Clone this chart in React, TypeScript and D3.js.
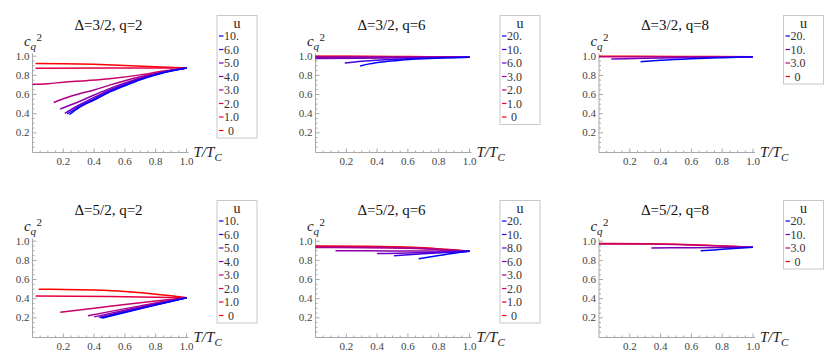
import React from "react";
import * as d3 from "d3";

// ---------- data (legend order: highest u first) ----------
const titles = ["Δ=3/2, q=2", "Δ=3/2, q=6", "Δ=3/2, q=8", "Δ=5/2, q=2", "Δ=5/2, q=6", "Δ=5/2, q=8"];

const uLabels_32_2 = ["10.", "6.0", "5.0", "4.0", "3.0", "2.0", "1.0", "0"];
const curves_32_2: number[][][] = [
  [[0.24, 0.391], [0.3, 0.46], [0.4, 0.543], [0.5, 0.625], [0.6, 0.692], [0.7, 0.755], [0.8, 0.804], [0.9, 0.845], [1, 0.877]],
  [[0.225, 0.397], [0.3, 0.472], [0.4, 0.555], [0.5, 0.635], [0.6, 0.70], [0.7, 0.76], [0.8, 0.808], [0.9, 0.847], [1, 0.877]],
  [[0.21, 0.404], [0.3, 0.488], [0.4, 0.57], [0.5, 0.645], [0.6, 0.708], [0.7, 0.765], [0.8, 0.812], [0.9, 0.85], [1, 0.877]],
  [[0.18, 0.449], [0.3, 0.525], [0.4, 0.595], [0.5, 0.662], [0.6, 0.72], [0.7, 0.772], [0.8, 0.815], [0.9, 0.85], [1, 0.877]],
  [[0.138, 0.517], [0.2, 0.555], [0.3, 0.605], [0.4, 0.647], [0.5, 0.698], [0.6, 0.744], [0.7, 0.785], [0.8, 0.82], [0.9, 0.85], [1, 0.877]],
  [[0.0, 0.707], [0.1, 0.713], [0.2, 0.728], [0.35, 0.745], [0.5, 0.765], [0.7, 0.805], [0.85, 0.845], [1, 0.877]],
  [[0.02, 0.874], [0.5, 0.876], [1, 0.877]],
  [[0.02, 0.924], [0.2, 0.922], [0.4, 0.915], [0.6, 0.904], [0.8, 0.891], [1, 0.877]],
];

const uLabels_32_6 = ["20.", "10.", "6.0", "3.0", "2.0", "1.0", "0"];
const curves_32_6: number[][][] = [
  [[0.29, 0.898], [0.35, 0.92], [0.45, 0.943], [0.55, 0.958], [0.7, 0.973], [0.85, 0.984], [1, 0.99]],
  [[0.19, 0.93], [0.3, 0.948], [0.45, 0.963], [0.6, 0.974], [0.8, 0.984], [1, 0.99]],
  [[0.0, 0.975], [0.3, 0.978], [0.6, 0.984], [1, 0.99]],
  [[0.0, 0.99], [0.5, 0.99], [1, 0.99]],
  [[0.0, 0.995], [0.5, 0.993], [1, 0.99]],
  [[0.0, 0.998], [0.5, 0.995], [1, 0.99]],
  [[0.0, 1.0], [0.5, 0.997], [1, 0.99]],
];

const uLabels_32_8 = ["20.", "10.", "3.0", "0"];
const curves_32_8: number[][][] = [
  [[0.27, 0.943], [0.4, 0.958], [0.6, 0.974], [0.8, 0.985], [1, 0.993]],
  [[0.08, 0.971], [0.3, 0.978], [0.6, 0.986], [1, 0.993]],
  [[0.0, 0.995], [0.5, 0.994], [1, 0.993]],
  [[0.0, 1.0], [0.5, 0.998], [1, 0.995]],
];

const uLabels_52_2 = ["10.", "6.0", "5.0", "4.0", "3.0", "2.0", "1.0", "0"];
const curves_52_2: number[][][] = [
  [[0.45, 0.197], [0.6, 0.256], [0.8, 0.333], [1, 0.41]],
  [[0.44, 0.2], [0.6, 0.262], [0.8, 0.337], [1, 0.41]],
  [[0.43, 0.205], [0.6, 0.268], [0.8, 0.34], [1, 0.41]],
  [[0.40, 0.21], [0.6, 0.28], [0.8, 0.347], [1, 0.41]],
  [[0.36, 0.222], [0.5, 0.265], [0.7, 0.325], [0.85, 0.37], [1, 0.41]],
  [[0.18, 0.258], [0.4, 0.30], [0.6, 0.34], [0.8, 0.377], [1, 0.41]],
  [[0.02, 0.427], [0.5, 0.422], [1, 0.41]],
  [[0.04, 0.498], [0.2, 0.497], [0.4, 0.49], [0.6, 0.475], [0.8, 0.447], [0.9, 0.43], [1, 0.41]],
];

const uLabels_52_6 = ["20.", "10.", "8.0", "6.0", "3.0", "2.0", "1.0", "0"];
const curves_52_6: number[][][] = [
  [[0.67, 0.818], [0.8, 0.85], [0.9, 0.875], [1, 0.895]],
  [[0.51, 0.849], [0.7, 0.868], [0.85, 0.882], [1, 0.895]],
  [[0.40, 0.871], [0.6, 0.877], [0.8, 0.886], [1, 0.895]],
  [[0.13, 0.90], [0.5, 0.899], [1, 0.895]],
  [[0.0, 0.935], [0.5, 0.928], [0.7, 0.92], [0.85, 0.908], [1, 0.895]],
  [[0.0, 0.94], [0.5, 0.933], [0.7, 0.924], [0.85, 0.91], [1, 0.895]],
  [[0.0, 0.945], [0.3, 0.943], [0.5, 0.938], [0.7, 0.928], [0.85, 0.912], [1, 0.895]],
  [[0.0, 0.95], [0.3, 0.948], [0.5, 0.943], [0.7, 0.932], [0.85, 0.915], [1, 0.895]],
];

const uLabels_52_8 = ["20.", "10.", "3.0", "0"];
const curves_52_8: number[][][] = [
  [[0.66, 0.90], [0.8, 0.915], [1, 0.936]],
  [[0.34, 0.929], [0.6, 0.932], [1, 0.936]],
  [[0.0, 0.972], [0.3, 0.97], [0.5, 0.965], [0.7, 0.956], [0.85, 0.946], [1, 0.936]],
  [[0.0, 0.975], [0.3, 0.973], [0.5, 0.968], [0.7, 0.958], [0.85, 0.948], [1, 0.936]],
];

const xTicks = [0.2, 0.4, 0.6, 0.8, 1.0];
const yTicks = [0.2, 0.4, 0.6, 0.8, 1.0];

const panels = [
  { title: titles[0], labels: uLabels_32_2, curves: curves_32_2 },
  { title: titles[1], labels: uLabels_32_6, curves: curves_32_6 },
  { title: titles[2], labels: uLabels_32_8, curves: curves_32_8 },
  { title: titles[3], labels: uLabels_52_2, curves: curves_52_2 },
  { title: titles[4], labels: uLabels_52_6, curves: curves_52_6 },
  { title: titles[5], labels: uLabels_52_8, curves: curves_52_8 },
];

const COL_X = [32.5, 315.5, 599];
const ROW_Y0 = [152, 337];
const PW = 154;
const PH = 95.8;
const SERIF = { fontFamily: "'Liberation Serif'" };
const SERIF_I = { fontFamily: "'Liberation Serif'", fontStyle: "italic" as const };
const blend = d3.interpolateRgb.gamma(1.4)("rgb(255,0,0)", "rgb(0,0,255)");

function Panel({ p, col, row }: { p: any; col: number; row: number }) {
  const x0 = COL_X[col];
  const y0 = ROW_Y0[row];
  const xs = d3.scaleLinear().domain([0, 1]).range([x0, x0 + PW]);
  const ys = d3.scaleLinear().domain([0, 1]).range([y0, y0 - PH]);
  const line = d3
    .line<number[]>()
    .x((d) => xs(d[0]))
    .y((d) => ys(d[1]))
    .curve(d3.curveMonotoneX);
  const n = p.labels.length;
  const colorAt = (i: number) => blend(1 - i / (n - 1));
  const minor = d3.range(0.05, 1.0001, 0.05);
  const axisColor = "#a8a8a8";
  const x1 = xs(1);
  const top = ys(1.03);
  const lx = x1 + 30.5;
  const ltop = y0 - 136.5;
  const lw = 40;
  const lfirst = ltop + 20.5;
  const lstep = 13.5;
  const lh = 20.5 + (n - 1) * lstep + 7.5;
  const order = d3.range(n).reverse();
  return (
    <g>
      {/* axes */}
      <line x1={x0} x2={x1 + 2} y1={y0 + 0.5} y2={y0 + 0.5} stroke={axisColor} strokeWidth={1} />
      <line x1={x0} x2={x0} y1={y0 + 0.5} y2={top} stroke={axisColor} strokeWidth={1} />
      {minor.map((t, i) => {
        const isMajor = Math.abs(t * 5 - Math.round(t * 5)) < 1e-6;
        const len = isMajor ? 4 : 2;
        return (
          <g key={"m" + i}>
            <line x1={xs(t)} x2={xs(t)} y1={y0 + 0.5} y2={y0 + 0.5 - len} stroke={axisColor} strokeWidth={1} />
            <line x1={x0} x2={x0 + len} y1={ys(t)} y2={ys(t)} stroke={axisColor} strokeWidth={1} />
          </g>
        );
      })}
      {xTicks.map((t) => (
        <text key={"xt" + t} x={xs(t)} y={y0 + 13} textAnchor="middle" style={SERIF} fontSize={11} fill="#444">
          {t.toFixed(1)}
        </text>
      ))}
      {yTicks.map((t) => (
        <text key={"yt" + t} x={x0 - 3} y={ys(t) + 3.5} textAnchor="end" style={SERIF} fontSize={11} fill="#444">
          {t.toFixed(1)}
        </text>
      ))}
      {/* axis labels */}
      <text x={x0 - 8.5} y={y0 - 106} style={SERIF_I} fontSize={15} fill="#222">
        c
      </text>
      <text x={x0 - 2} y={y0 - 102.5} style={SERIF_I} fontSize={11} fill="#222">
        q
      </text>
      <text x={x0 + 4} y={y0 - 111.5} style={SERIF} fontSize={11} fill="#222">
        2
      </text>
      <text x={x1 + 7} y={y0 + 5} style={SERIF_I} fontSize={15} fill="#222">
        T/T
      </text>
      <text x={x1 + 28} y={y0 + 8.5} style={SERIF_I} fontSize={11} fill="#222">
        C
      </text>
      {/* title */}
      <text x={x0 + 76} y={y0 - 122.5} textAnchor="middle" style={SERIF} fontSize={15} fill="#111">
        {p.title}
      </text>
      {/* curves */}
      <g fill="none" strokeWidth={1.5} strokeLinecap="butt">
        {order.map((i) => (
          <path key={"c" + i} d={line(p.curves[i]) || ""} stroke={colorAt(i)} />
        ))}
      </g>
      {/* legend */}
      <rect x={lx} y={ltop} width={lw} height={lh} fill="white" stroke="#c8c8c8" strokeWidth={1} />
      <text x={lx + lw / 2} y={ltop + 12} textAnchor="middle" style={SERIF} fontSize={14} fill="#222">
        u
      </text>
      {p.labels.map((lab: string, i: number) => {
        const yy = lfirst + i * lstep;
        return (
          <g key={"l" + i}>
            <line x1={lx + 2} x2={lx + 6.5} y1={yy} y2={yy} stroke={colorAt(i)} strokeWidth={1.2} />
            <text x={lx + 7 + (lab === "0" ? 4 : 0)} y={yy + 4} style={SERIF} fontSize={12} fill="#333">
              {lab}
            </text>
          </g>
        );
      })}
    </g>
  );
}

export default function App() {
  return (
    <svg width={830} height={358} style={{ position: "absolute", left: 0, top: 0, background: "white" }}>
      <rect x={0} y={0} width={830} height={358} fill="white" />
      {panels.map((p, k) => (
        <Panel key={k} p={p} col={k % 3} row={Math.floor(k / 3)} />
      ))}
    </svg>
  );
}
